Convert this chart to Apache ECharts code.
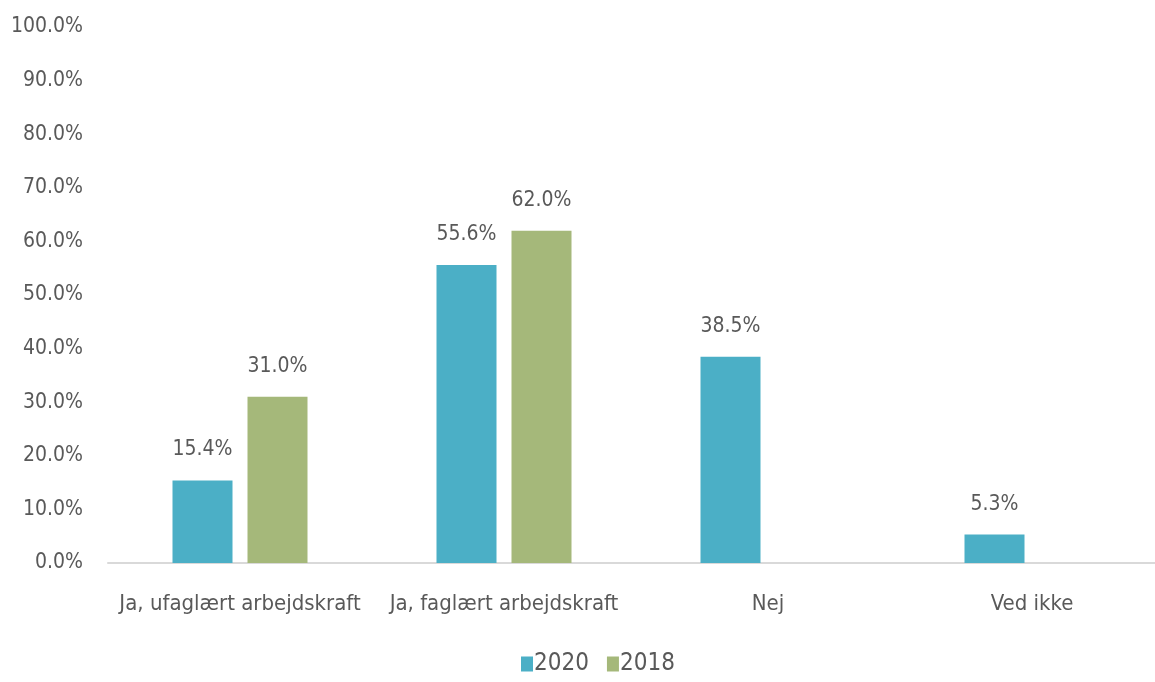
<!DOCTYPE html>
<html>
<head>
<meta charset="utf-8">
<script src="https://cdn.jsdelivr.net/npm/echarts@6/dist/echarts.min.js"></script>
<style>
html,body{margin:0;padding:0;background:#fff;}
#main{width:1155px;height:682px;}
</style>
</head>
<body>
<div id="main"></div>
<script>
var categories = ['Ja, ufaglært arbejdskraft', 'Ja, faglært arbejdskraft', 'Nej', 'Ved ikke'];
var values2020 = [15.4, 55.6, 38.5, 5.3];
var values2018 = [31.0, 62.0, null, null];
var yTicks = [0, 10, 20, 30, 40, 50, 60, 70, 80, 90, 100];

window.onload = function () {
	var myChart = echarts.init(document.getElementById('main'));
	var font = "'DejaVu Sans Condensed', sans-serif";
	var textColor = '#595959';
	var labelOpt = {
		show: true,
		position: 'top',
		distance: 20,
		color: textColor,
		fontSize: 21,
		fontFamily: font,
		formatter: function (p) { return p.value == null ? '' : p.value.toFixed(1) + '%'; }
	};
	var option = {
		animation: false,
		textStyle: { fontFamily: font },
		grid: { left: 108, top: 27, width: 1056, bottom: 119, outerBoundsMode: 'none', containLabel: false },
		legend: {
			data: ['2020', '2018'],
			bottom: 1,
			left: 516,
			itemWidth: 12,
			itemHeight: 15,
			itemGap: 18,
			icon: 'rect',
			textStyle: { color: textColor, fontSize: 24, fontFamily: font, padding: [0, 0, 0, -4] }
		},
		xAxis: {
			type: 'category',
			data: categories,
			axisTick: { show: false },
			axisLine: { lineStyle: { color: '#d9d9d9', width: 2 } },
			axisLabel: { color: textColor, fontSize: 22, fontFamily: font, margin: 30, interval: 0 }
		},
		yAxis: {
			type: 'value',
			min: yTicks[0],
			max: yTicks[yTicks.length - 1],
			interval: 10,
			axisLine: { show: false },
			axisTick: { show: false },
			splitLine: { show: false },
			axisLabel: {
				color: textColor, fontSize: 21, fontFamily: font, margin: 25,
				formatter: function (v) { return v.toFixed(1) + '%'; }
			}
		},
		series: [
			{
				name: '2020', type: 'bar', data: values2020,
				barWidth: 60, barGap: '25%',
				itemStyle: { color: '#4bafc6' },
				label: labelOpt
			},
			{
				name: '2018', type: 'bar', data: values2018,
				barWidth: 60, barGap: '25%',
				itemStyle: { color: '#a5b87a' },
				label: labelOpt
			}
		]
	};
	myChart.setOption(option);
};
</script>
</body>
</html>
